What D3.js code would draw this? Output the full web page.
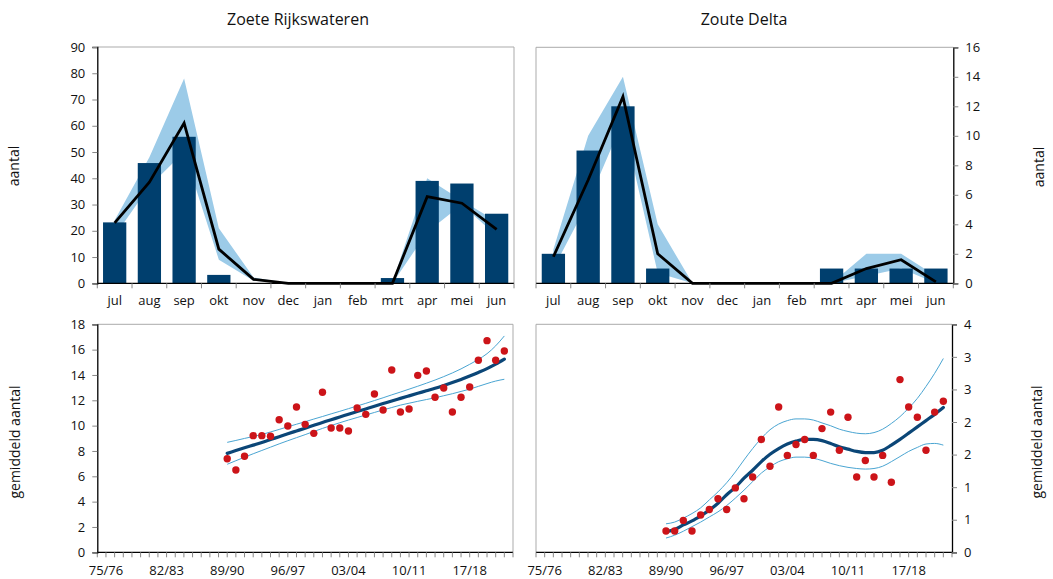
<!DOCTYPE html>
<html><head><meta charset="utf-8">
<script src="https://cdn.jsdelivr.net/npm/d3@7"></script>
<style>
html,body{margin:0;padding:0;background:#fff;}
svg{display:block;font-family:"Open Sans","DejaVu Sans",sans-serif;}
</style></head>
<body><svg id="c" width="1053" height="579"></svg>
<script>
// ---------- data ----------
const months = ["jul","aug","sep","okt","nov","dec","jan","feb","mrt","apr","mei","jun"];

const zoeteBars = [23.2, 45.8, 55.8, 3.2, 0, 0, 0, 0, 2.0, 39.0, 38.0, 26.5];
const zoeteMean = [23, 38.5, 61, 13, 1.5, 0, 0, 0, 0, 33, 30.5, 20.5];
const zoeteMax  = [24, 48, 78, 21, 2.2, 0, 0, 0, 0.3, 40, 31.5, 23.5];
const zoeteMin  = [18, 37, 50, 9, 1, 0, 0, 0, 0, 19.5, 30, 18];

const deltaBars = [2, 9, 12, 1, 0, 0, 0, 0, 1, 1, 1, 1];
const deltaMean = [1.8, 7, 12.65, 2, 0, 0, 0, 0, 0, 1.0, 1.6, 0.1];
const deltaMax  = [2.3, 10, 14, 4, 0, 0, 0, 0, 0, 2, 2, 0.5];
const deltaMin  = [1.0, 5.5, 11, 0.7, 0, 0, 0, 0, 0, 0.5, 1, 0];

const seasons = ["89/90","90/91","91/92","92/93","93/94","94/95","95/96","96/97","97/98","98/99",
  "99/00","00/01","01/02","02/03","03/04","04/05","05/06","06/07","07/08","08/09","09/10",
  "10/11","11/12","12/13","13/14","14/15","15/16","16/17","17/18","18/19","19/20","20/21","21/22"];
const seasonTicks = ["75/76","82/83","89/90","96/97","03/04","10/11","17/18"];

const zoetePoints = [7.39, 6.50, 7.58, 9.21, 9.21, 9.16, 10.47, 9.97, 11.47, 10.10, 9.39, 12.63, 9.81, 9.81,
  9.58, 11.39, 10.89, 12.50, 11.23, 14.39, 11.08, 11.31, 13.97, 14.31, 12.24, 12.97, 11.08, 12.24,
  13.05, 15.16, 16.71, 15.16, 15.89];
const zoeteTrend = [7.81, 8.03, 8.25, 8.46, 8.67, 8.9, 9.13, 9.36, 9.58, 9.8, 10.03, 10.25, 10.47, 10.68,
  10.9, 11.11, 11.32, 11.53, 11.74, 11.95, 12.15, 12.35, 12.55, 12.75, 12.95, 13.17, 13.4, 13.65,
  13.92, 14.2, 14.5, 14.85, 15.25];
const zoeteUpper = [8.68, 8.83, 8.99, 9.14, 9.3, 9.5, 9.7, 9.91, 10.11, 10.31, 10.52, 10.72, 10.93, 11.13,
  11.34, 11.55, 11.76, 11.98, 12.2, 12.43, 12.65, 12.88, 13.11, 13.35, 13.6, 13.87, 14.16, 14.48,
  14.84, 15.23, 15.68, 16.3, 17.08];
const zoeteLower = [6.95, 7.23, 7.51, 7.78, 8.04, 8.3, 8.56, 8.81, 9.05, 9.29, 9.54, 9.78, 10.01, 10.23,
  10.44, 10.64, 10.84, 11.04, 11.24, 11.43, 11.62, 11.77, 11.92, 12.06, 12.2, 12.36, 12.52, 12.7,
  12.88, 13.1, 13.32, 13.52, 13.66];

const deltaPoints = [0.374, 0.374, 0.56, 0.374, 0.654, 0.75, 0.94, 0.75, 1.13, 0.94, 1.32, 1.98, 1.51,
  2.55, 1.70, 1.89, 1.98, 1.70, 2.17, 2.46, 1.79, 2.37, 1.32, 1.61, 1.32, 1.70, 1.23, 3.03, 2.55,
  2.37, 1.79, 2.46, 2.65];
const deltaTrend = [0.36, 0.40, 0.48, 0.55, 0.64, 0.74, 0.86, 1.01, 1.14, 1.30, 1.44, 1.59, 1.72, 1.82,
  1.90, 1.95, 1.98, 1.98, 1.96, 1.91, 1.85, 1.81, 1.77, 1.75, 1.75, 1.79, 1.88, 1.98, 2.09, 2.20,
  2.31, 2.42, 2.54];
const deltaUpper = [0.50, 0.53, 0.60, 0.68, 0.78, 0.92, 1.06, 1.22, 1.41, 1.62, 1.82, 2.00, 2.15, 2.25,
  2.31, 2.34, 2.34, 2.32, 2.27, 2.22, 2.16, 2.12, 2.09, 2.08, 2.10, 2.16, 2.26, 2.38, 2.53, 2.70,
  2.91, 3.14, 3.40];
const deltaLower = [0.25, 0.30, 0.37, 0.45, 0.53, 0.62, 0.71, 0.82, 0.95, 1.09, 1.24, 1.39, 1.50, 1.59,
  1.64, 1.67, 1.67, 1.65, 1.61, 1.56, 1.52, 1.49, 1.47, 1.46, 1.47, 1.51, 1.59, 1.68, 1.77, 1.84,
  1.90, 1.91, 1.88];

const yTicksZoete = [0,10,20,30,40,50,60,70,80,90];
const yTicksDelta = [0,2,4,6,8,10,12,14,16];
const yTicksZoeteAvg = [0,2,4,6,8,10,12,14,16,18];
const yTicksDeltaAvg = [0, 4/7, 8/7, 12/7, 16/7, 20/7, 24/7, 4];
const yTickLabelsDeltaAvg = ["0","1","1","2","2","3","3","4"];

// ---------- style ----------
const C = {bar:"#003f6e", band:"#9ccbe8", mean:"#000000", trend:"#0b4677", ci:"#4aa5d2", pt:"#cc1419",
  axis:"#000", border:"#ababab", text:"#111"};

const svg = d3.select("#c");
const seasonYear = s => { const y = +s.slice(0,2); return y >= 50 ? 1900 + y : 2000 + y; };

function frame(g, x0, x1, yTop, yBot, side){
  // gray border on top and opposite side
  g.append("line").attr("x1",x0).attr("x2",x1).attr("y1",yTop).attr("y2",yTop).attr("stroke",C.border).attr("stroke-width",1);
  const xo = side === "left" ? x1 : x0;
  g.append("line").attr("x1",xo).attr("x2",xo).attr("y1",yTop).attr("y2",yBot).attr("stroke",C.border).attr("stroke-width",1);
}

function yAxis(g, y, xPos, side, ticks, labels){
  const ax = (side === "left" ? d3.axisLeft(y) : d3.axisRight(y))
    .tickValues(ticks).tickSize(5).tickPadding(7)
    .tickFormat((d,i) => labels ? labels[i] : d);
  const a = g.append("g").attr("transform",`translate(${xPos},0)`).call(ax);
  a.select(".domain").attr("stroke",C.axis).attr("stroke-width",1.3);
  a.selectAll(".tick line").attr("stroke","#888");
  a.selectAll("text").attr("font-size",13).attr("fill",C.text).attr("font-family","'Open Sans','DejaVu Sans',sans-serif");
}

function axisTitle(text, cx, cy){
  svg.append("text").attr("transform",`translate(${cx},${cy}) rotate(-90)`)
    .attr("text-anchor","middle").attr("dominant-baseline","middle")
    .attr("font-size",14).attr("fill",C.text).text(text);
}

function topPanel(opt){
  const g = svg.append("g");
  const x = d3.scaleBand().domain(months).range([opt.x0, opt.x1]).paddingInner(0.33).paddingOuter(0.165);
  const slot = d3.scaleBand().domain(months).range([opt.x0, opt.x1]);
  const y = d3.scaleLinear().domain([0, opt.max]).range([opt.yBot, opt.yTop]);
  const cx = m => slot(m) + slot.bandwidth()/2;
  frame(g, opt.x0, opt.x1, opt.yTop, opt.yBot, opt.side);
  const rows = months.map((m,i) => ({m, bar:opt.bars[i], mean:opt.mean[i], hi:opt.hi[i], lo:opt.lo[i]}));
  g.append("path").datum(rows)
    .attr("d", d3.area().x(d=>cx(d.m)).y0(d=>y(d.lo)).y1(d=>y(d.hi)))
    .attr("fill",C.band);
  g.selectAll("rect.bar").data(rows).enter().append("rect")
    .attr("x",d=>x(d.m)).attr("width",x.bandwidth())
    .attr("y",d=>y(d.bar)).attr("height",d=>y(0)-y(d.bar))
    .attr("fill",C.bar);
  g.append("path").datum(rows)
    .attr("d", d3.line().x(d=>cx(d.m)).y(d=>y(d.mean)))
    .attr("fill","none").attr("stroke",C.mean).attr("stroke-width",2.8).attr("stroke-linejoin","miter");
  // x axis
  g.append("line").attr("x1",opt.x0).attr("x2",opt.x1).attr("y1",opt.yBot).attr("y2",opt.yBot).attr("stroke",C.axis).attr("stroke-width",1.3);
  const bounds = months.map(m => slot(m)).concat([opt.x1]);
  g.selectAll("line.xt").data(bounds).enter().append("line")
    .attr("x1",d=>d).attr("x2",d=>d).attr("y1",opt.yBot).attr("y2",opt.yBot+5).attr("stroke","#888");
  g.selectAll("text.xl").data(months).enter().append("text")
    .attr("x",d=>cx(d)).attr("y",opt.yBot+22).attr("text-anchor","middle")
    .attr("font-size",13).attr("fill",C.text).text(d=>d);
  yAxis(g, y, opt.side === "left" ? opt.x0 : opt.x1, opt.side, opt.ticks);
}

function bottomPanel(opt){
  const g = svg.append("g");
  const x = d3.scaleLinear().domain([1974, 2022]).range([opt.x0, opt.x1]);
  const y = d3.scaleLinear().domain([0, opt.max]).range([opt.yBot, opt.yTop]);
  frame(g, opt.x0, opt.x1, opt.yTop, opt.yBot, opt.side);
  const rows = seasons.map((s,i) => ({yr:seasonYear(s), v:opt.pts[i], t:opt.trend[i], u:opt.up[i], l:opt.lo[i]}));
  const ln = key => d3.line().curve(d3.curveMonotoneX).x(d=>x(d.yr)).y(d=>y(d[key]));
  g.append("path").datum(rows).attr("d",ln("u")).attr("fill","none").attr("stroke",C.ci).attr("stroke-width",1);
  g.append("path").datum(rows).attr("d",ln("l")).attr("fill","none").attr("stroke",C.ci).attr("stroke-width",1);
  g.append("path").datum(rows).attr("d",ln("t")).attr("fill","none").attr("stroke",C.trend).attr("stroke-width",3.2).attr("stroke-linecap","round");
  g.selectAll("circle").data(rows).enter().append("circle")
    .attr("cx",d=>x(d.yr)).attr("cy",d=>y(d.v)).attr("r",3.7).attr("fill",C.pt);
  // x axis
  g.append("line").attr("x1",opt.x0).attr("x2",opt.x1).attr("y1",opt.yBot).attr("y2",opt.yBot).attr("stroke",C.axis).attr("stroke-width",1.3);
  g.selectAll("line.xt").data(d3.range(1974, 2023)).enter().append("line")
    .attr("x1",d=>x(d)).attr("x2",d=>x(d)).attr("y1",opt.yBot).attr("y2",opt.yBot+5).attr("stroke","#888");
  g.selectAll("text.xl").data(seasonTicks).enter().append("text")
    .attr("x",d=>x(seasonYear(d))).attr("y",opt.yBot+23).attr("text-anchor","middle")
    .attr("font-size",13).attr("fill",C.text).text(d=>d);
  yAxis(g, y, opt.side === "left" ? opt.x0 : opt.x1, opt.side, opt.ticks, opt.labels);
}

// titles
svg.append("text").attr("x",298).attr("y",25).attr("text-anchor","middle").attr("font-size",16).attr("fill",C.text).text("Zoete Rijkswateren");
svg.append("text").attr("x",744).attr("y",25).attr("text-anchor","middle").attr("font-size",16).attr("fill",C.text).text("Zoute Delta");

topPanel({x0:97.3, x1:514, yTop:47, yBot:283.3, max:90, side:"left",
  bars:zoeteBars, mean:zoeteMean, hi:zoeteMax, lo:zoeteMin, ticks:yTicksZoete});
topPanel({x0:536, x1:953.3, yTop:47.3, yBot:283.3, max:16, side:"right",
  bars:deltaBars, mean:deltaMean, hi:deltaMax, lo:deltaMin, ticks:yTicksDelta});
bottomPanel({x0:97.3, x1:513, yTop:324.3, yBot:552.3, max:18, side:"left",
  pts:zoetePoints, trend:zoeteTrend, up:zoeteUpper, lo:zoeteLower, ticks:yTicksZoeteAvg});
bottomPanel({x0:536, x1:952, yTop:324.3, yBot:552.3, max:4, side:"right",
  pts:deltaPoints, trend:deltaTrend, up:deltaUpper, lo:deltaLower, ticks:yTicksDeltaAvg, labels:yTickLabelsDeltaAvg});

axisTitle("aantal", 15, 166);
axisTitle("aantal", 1040, 167);
axisTitle("gemiddeld aantal", 16, 442);
axisTitle("gemiddeld aantal", 1038, 442);
</script></body></html>
